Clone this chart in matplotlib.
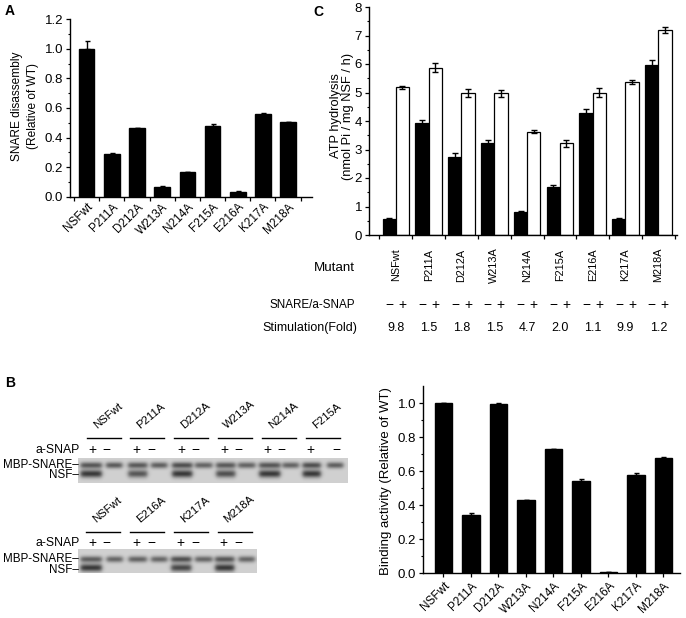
import numpy as np
import matplotlib
matplotlib.use("Agg")
import matplotlib.pyplot as plt
from matplotlib.transforms import blended_transform_factory

plt.rcParams['font.family'] = ['Liberation Sans', 'DejaVu Sans']
plt.rcParams['font.size'] = 8

# ---------------- data ----------------
mutants = ["NSFwt", "P211A", "D212A", "W213A", "N214A", "F215A", "E216A", "K217A", "M218A"]

# Panel A: SNARE disassembly (relative of WT)
disassembly = [1.00, 0.29, 0.465, 0.065, 0.165, 0.48, 0.035, 0.56, 0.505]
disassembly_err = [0.05, 0.004, 0.003, 0.004, 0.004, 0.01, 0.004, 0.003, 0.003]

# Panel C: ATP hydrolysis
atp_minus = [0.56, 3.94, 2.75, 3.24, 0.80, 1.67, 4.29, 0.56, 5.98]
atp_minus_err = [0.02, 0.10, 0.12, 0.10, 0.03, 0.08, 0.12, 0.02, 0.15]
atp_plus = [5.18, 5.87, 4.99, 4.97, 3.63, 3.22, 5.00, 5.37, 7.20]
atp_plus_err = [0.04, 0.15, 0.15, 0.13, 0.06, 0.13, 0.15, 0.08, 0.10]
stimulation = ["9.8", "1.5", "1.8", "1.5", "4.7", "2.0", "1.1", "9.9", "1.2"]

# Panel B: binding activity (relative of WT)
binding = [1.00, 0.341, 0.993, 0.427, 0.731, 0.541, 0.004, 0.575, 0.678]
binding_err = [0.0, 0.010, 0.006, 0.005, 0.0, 0.010, 0.0, 0.012, 0.005]

# Gels: lane groups and band intensities (upper = MBP-SNARE, lower = NSF)
gel1_groups = ["NSFwt", "P211A", "D212A", "W213A", "N214A", "F215A"]
gel1_upper = [0.80, 0.78, 0.78, 0.75, 0.85, 0.72, 0.78, 0.72, 0.80, 0.72, 0.85, 0.75]
gel1_lower = [1.00, 0.00, 0.80, 0.00, 1.00, 0.00, 0.85, 0.00, 1.00, 0.00, 1.00, 0.00]
gel2_groups = ["NSFwt", "E216A", "K217A", "M218A"]
gel2_upper = [0.75, 0.70, 0.72, 0.70, 0.85, 0.70, 0.80, 0.70]
gel2_lower = [1.00, 0.00, 0.00, 0.00, 0.90, 0.00, 1.00, 0.00]
sign_labels = ["+", "\u2212"]

# ---------------- layout helpers ----------------
W, H = 686, 618
fig = plt.figure(figsize=(W / 100, H / 100), dpi=100)


def rect(l, t, r, b):
    return [l / W, 1 - b / H, (r - l) / W, (b - t) / H]


def P(x, y):
    return x / W, 1 - y / H


def style_axes(ax, ysize=9.5, xsize=8.5):
    for s in ["top", "right"]:
        ax.spines[s].set_visible(False)
    for s in ["left", "bottom"]:
        ax.spines[s].set_linewidth(1.0)
    ax.tick_params(which="major", direction="out", length=3, width=0.9, pad=2)
    ax.tick_params(which="minor", direction="out", length=1.8, width=0.8)
    ax.tick_params(axis="y", labelsize=ysize)
    ax.tick_params(axis="x", labelsize=xsize)


x = np.arange(len(mutants))

# ---------------- Panel A ----------------
axA = fig.add_axes(rect(70, 19.3, 312, 196.7))
axA.bar(x, disassembly, width=0.62, color="black", edgecolor="black",
        yerr=[np.zeros(len(x)), disassembly_err], capsize=1.8,
        error_kw=dict(elinewidth=1.0, capthick=1.0, ecolor="black"))
axA.set_xlim(-0.66, 8.95)
axA.set_ylim(0, 1.2)
style_axes(axA)
axA.set_yticks(np.arange(0, 1.21, 0.2))
axA.set_yticklabels([f"{v:.1f}" for v in np.arange(0, 1.21, 0.2)])
axA.set_yticks(np.arange(0.1, 1.2, 0.2), minor=True)
axA.set_xticks(np.arange(-0.5, 9, 1.0))
axA.set_xticklabels([])
axA.set_xticks(x, mutants, minor=True, rotation=45, ha="right", va="top",
               rotation_mode="anchor")
axA.tick_params(axis="x", which="minor", length=0, pad=3, labelsize=8.5)
fig.text(*P(25, 106), "SNARE disassembly\n(Relative of WT)", rotation=90,
         ha="center", va="center", multialignment="center", linespacing=1.35,
         fontsize=8.6)
fig.text(*P(10, 11), "A", fontsize=10, fontweight="bold", ha="center", va="center")

# ---------------- Panel C ----------------
axC = fig.add_axes(rect(369, 7, 677, 235))
bw = 0.405
axC.bar(x - 0.2, atp_minus, width=bw, color="black", edgecolor="black", linewidth=0.9,
        yerr=atp_minus_err, capsize=2.4,
        error_kw=dict(elinewidth=1.0, capthick=1.0, ecolor="black"))
axC.bar(x + 0.2, atp_plus, width=bw, color="white", edgecolor="black", linewidth=0.9,
        yerr=atp_plus_err, capsize=2.4,
        error_kw=dict(elinewidth=1.0, capthick=1.0, ecolor="black"))
axC.set_xlim(-0.82, 8.57)
axC.set_ylim(0, 8)
style_axes(axC)
axC.set_yticks(np.arange(0, 9, 1))
axC.set_yticks(np.arange(0.5, 8, 1.0), minor=True)
axC.set_xticks(np.arange(-0.5, 9, 1.0))
axC.set_xticklabels([])
trC = blended_transform_factory(axC.transData, fig.transFigure)
for i, m in enumerate(mutants):
    axC.text(i, P(0, 265)[1], m, rotation=90, ha="center", va="center",
             transform=trC, fontsize=7.8)
    axC.text(i - 0.2, P(0, 305)[1], sign_labels[1], ha="center", va="center",
             transform=trC, fontsize=10)
    axC.text(i + 0.2, P(0, 305)[1], sign_labels[0], ha="center", va="center",
             transform=trC, fontsize=10)
    axC.text(i, P(0, 328)[1], stimulation[i], ha="center", va="center",
             transform=trC, fontsize=9)
fig.text(*P(355, 268), "Mutant", ha="right", va="center", fontsize=9.6)
fig.text(*P(355, 305), "SNARE/a-SNAP", ha="right", va="center", fontsize=8.4)
fig.text(*P(357, 328), "Stimulation(Fold)", ha="right", va="center", fontsize=9)
fig.text(*P(342, 116), "ATP hydrolysis\n(nmol Pi / mg NSF / h)", rotation=90,
         ha="center", va="center", multialignment="center", linespacing=1.0,
         fontsize=9.3)
fig.text(*P(318, 12), "C", fontsize=10, fontweight="bold", ha="center", va="center")

# ---------------- Binding panel ----------------
axB = fig.add_axes(rect(423, 386, 680, 573))
axB.bar(x, binding, width=0.62, color="black", edgecolor="black",
        yerr=[np.zeros(len(x)), binding_err], capsize=1.8,
        error_kw=dict(elinewidth=1.0, capthick=1.0, ecolor="black"))
axB.set_xlim(-0.745, 8.6)
axB.set_ylim(0, 1.1)
style_axes(axB)
axB.set_yticks(np.arange(0, 1.01, 0.2))
axB.set_yticklabels([f"{v:.1f}" for v in np.arange(0, 1.01, 0.2)])
axB.set_yticks(np.arange(0.1, 1.1, 0.2), minor=True)
axB.set_xticks(x, mutants, rotation=45, ha="right", va="top", rotation_mode="anchor")
fig.text(*P(386, 481), "Binding activity (Relative of WT)", rotation=90,
         ha="center", va="center", fontsize=9.5)


# ---------------- Gels ----------------
def draw_gel(x0, x1, y0, y1, lane_c, lane_w, upper, lower, yu, yl):
    ax = fig.add_axes(rect(x0, y0, x1, y1))
    xs = np.arange(x0, x1, 0.5)
    ys = np.arange(y0, y1, 0.5)
    X, Y = np.meshgrid(xs, ys)
    dark = np.zeros_like(X)
    for c, w, u, l in zip(lane_c, lane_w, upper, lower):
        hx = 1.0 / (1.0 + np.exp(-(w / 2 - np.abs(X - c)) / 1.2))
        dark += hx * u * np.exp(-0.5 * ((Y - yu) / 2.2) ** 2)
        dark += hx * l * np.exp(-0.5 * ((Y - yl) / 2.7) ** 2)
    dark = np.clip(dark, 0, 1.2) / 1.2
    bg = 0.82
    img = bg - (bg - 0.10) * dark
    ax.imshow(img, cmap="gray", vmin=0, vmax=1, aspect="auto",
              extent=[x0, x1, y1, y0], interpolation="bilinear")
    ax.set_axis_off()
    return ax


def gel_text(groups, line_c, line_y, snap_y, plus_x, minus_x, mbp_y, nsf_y):
    for g, c in zip(groups, line_c):
        fig.add_artist(plt.Line2D([(c - 17) / W, (c + 17) / W],
                                  [1 - line_y / H, 1 - line_y / H],
                                  color="black", lw=1.0))
        fig.text(*P(c - 6, line_y - 7), g, rotation=40, ha="left", va="bottom",
                 rotation_mode="anchor", fontsize=8.2)
    fig.text(*P(80, snap_y), "a-SNAP", ha="right", va="center", fontsize=8.8)
    for px in plus_x:
        fig.text(*P(px, snap_y), sign_labels[0], ha="center", va="center", fontsize=10)
    for mx in minus_x:
        fig.text(*P(mx, snap_y), sign_labels[1], ha="center", va="center", fontsize=10)
    fig.text(*P(79, (mbp_y + nsf_y) / 2 + 0.5), "MBP-SNARE\u2013\nNSF\u2013", ha="right",
             va="center", multialignment="right", linespacing=0.85, fontsize=8.4)


lanes1 = [91, 114, 137.5, 159, 182, 203.5, 225.5, 246.5, 269.5, 290.5, 311.5, 335]
widths1 = [21, 16, 19, 16, 20, 17, 19, 17, 21, 16, 18, 16]
draw_gel(78, 348, 458, 483, lanes1, widths1, gel1_upper, gel1_lower, 465, 473.5)
gel_text(gel1_groups, [104, 147, 191, 234.5, 279, 323], 437.7, 450,
         [92.7, 136.7, 181, 224.3, 267.7, 310.7],
         [106.7, 151.7, 195, 238.3, 281.7, 336.7], 465, 474)

lanes2 = [91, 114.5, 137.5, 159, 181, 203.5, 224.5, 246.5]
widths2 = [21, 16, 18, 16, 20, 17, 19, 16]
draw_gel(78, 257, 548.5, 573.5, lanes2, widths2, gel2_upper, gel2_lower, 559.5, 568)
gel_text(gel2_groups, [103, 147, 191, 234.5], 531.7, 543.3,
         [92.7, 136.7, 180, 223.3],
         [106.7, 151.7, 195, 238.3], 559.3, 568.3)

fig.text(*P(10, 383), "B", fontsize=10, fontweight="bold", ha="center", va="center")

fig.savefig("out.png", dpi=100)
